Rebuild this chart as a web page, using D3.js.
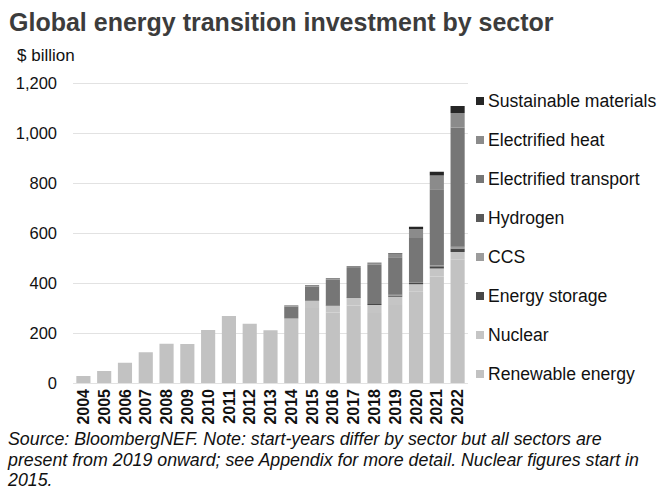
<!DOCTYPE html>
<html>
<head>
<meta charset="utf-8">
<script src="https://cdn.jsdelivr.net/npm/d3@7"></script>
<style>
  html, body { margin: 0; padding: 0; background: #fff; }
  svg { display: block; font-family: "Liberation Sans", Arial, sans-serif; }
</style>
</head>
<body>
<svg id="chart" width="661" height="490"></svg>
<script>
// Investment by year, $ billion, one array per sector
const years = ["2004","2005","2006","2007","2008","2009","2010","2011","2012","2013",
               "2014","2015","2016","2017","2018","2019","2020","2021","2022"];
const renewableEnergy      = [28,48,81,123,157,156,212,268,237,211,258,300,282,310,280,312,365,426,493];
const nuclear              = [0,0,0,0,0,0,0,0,0,0,0,28,26,30,32,33,30,32,31];
const energyStorage        = [0,0,0,0,0,0,0,0,0,0,0,1,2,3,4,5,7,9,14];
const ccs                  = [0,0,0,0,0,0,0,0,0,0,0,0,0,0,0,2,1,3,5];
const hydrogen             = [0,0,0,0,0,0,0,0,0,0,0,0,0,0,0,1,1,1,2];
const electrifiedTransport = [0,0,0,0,0,0,0,0,0,0,48,57,103,117,157,150,176,304,477];
const electrifiedHeat      = [0,0,0,0,0,0,0,0,0,0,5,6,7,8,9,15,36,55,58];
const sustainableMaterials = [0,0,0,0,0,0,0,0,0,0,0,0,0,0,0,2,9,15,28];
const yTicks = [0,200,400,600,800,1000,1200];

// Sectors listed bottom-to-top in stacking order
const sectors = [
  {key:"Renewable energy",      values:renewableEnergy,      color:"#c2c2c2"},
  {key:"Nuclear",               values:nuclear,              color:"#c5c5c5"},
  {key:"Energy storage",        values:energyStorage,        color:"#474747"},
  {key:"CCS",                   values:ccs,                  color:"#9c9c9c"},
  {key:"Hydrogen",              values:hydrogen,             color:"#595959"},
  {key:"Electrified transport", values:electrifiedTransport, color:"#767676"},
  {key:"Electrified heat",      values:electrifiedHeat,      color:"#8b8b8b"},
  {key:"Sustainable materials", values:sustainableMaterials, color:"#262626"}
];

const rows = years.map((y, i) => {
  const r = {year: y};
  sectors.forEach(s => r[s.key] = s.values[i]);
  return r;
});

const svg = d3.select("#chart");
const plot = {left: 73, right: 468, top: 83, bottom: 383};

const x = d3.scaleBand().domain(years).range([plot.left, plot.right]).paddingInner(0.32).paddingOuter(0.16);
const y = d3.scaleLinear().domain([0, 1200]).range([plot.bottom, plot.top]);

// Title and unit
svg.append("text").attr("x", 9).attr("y", 31)
  .attr("font-size", 25).attr("font-weight", "bold").attr("fill", "#3c3c3c")
  .text("Global energy transition investment by sector");
svg.append("text").attr("x", 17).attr("y", 61)
  .attr("font-size", 17).attr("fill", "#111")
  .text("$ billion");

// Gridlines and value axis
const yAxis = d3.axisLeft(y).tickValues(yTicks).tickSize(-(plot.right - plot.left))
  .tickFormat(d3.format(",")).tickPadding(16);
const gy = svg.append("g").attr("transform", `translate(${plot.left},0)`).call(yAxis);
gy.select(".domain").remove();
gy.selectAll(".tick line").attr("stroke", "#e2e2e2").attr("stroke-width", 1.2);
gy.selectAll(".tick text").attr("font-size", 16.5).attr("fill", "#111")
  .attr("font-family", "Liberation Sans, Arial, sans-serif");

// Stacked bars
const stack = d3.stack().keys(sectors.map(s => s.key));
const layers = stack(rows);
svg.append("g").selectAll("g").data(layers).join("g")
  .attr("fill", (d, i) => sectors[i].color)
  .selectAll("rect").data(d => d).join("rect")
  .attr("x", d => x(d.data.year))
  .attr("width", x.bandwidth())
  .attr("y", d => y(d[1]))
  .attr("height", d => Math.max(0, y(d[0]) - y(d[1])));

// Year axis, labels rotated to read upward
const xAxis = d3.axisBottom(x).tickSize(0).tickPadding(0);
const gx = svg.append("g").attr("transform", `translate(0,${plot.bottom})`).call(xAxis);
gx.select(".domain").remove();
gx.selectAll(".tick text")
  .attr("font-size", 16).attr("font-weight", "bold").attr("fill", "#111")
  .attr("font-family", "Liberation Sans, Arial, sans-serif")
  .attr("transform", "rotate(-90)")
  .attr("text-anchor", "end")
  .attr("x", -6).attr("y", 0).attr("dy", "0.35em");

// Legend, top entry is the top of the stack
const legendItems = sectors.slice().reverse();
const lg = svg.append("g").selectAll("g").data(legendItems).join("g")
  .attr("transform", (d, i) => `translate(476,${101 + i * 39})`);
lg.append("rect").attr("x", 0).attr("y", -4).attr("width", 8).attr("height", 8)
  .attr("fill", d => d.color);
lg.append("text").attr("x", 12).attr("y", 0).attr("dy", "0.35em")
  .attr("font-size", 17.6).attr("fill", "#111").text(d => d.key);

// Source note
const note = [
  "Source: BloombergNEF. Note: start-years differ by sector but all sectors are",
  "present from 2019 onward; see Appendix for more detail. Nuclear figures start in",
  "2015."
];
svg.append("g").selectAll("text").data(note).join("text")
  .attr("x", 8).attr("y", (d, i) => 445 + i * 20.5)
  .attr("font-size", 17.8).attr("font-style", "italic").attr("fill", "#111")
  .text(d => d);
</script>
</body>
</html>
